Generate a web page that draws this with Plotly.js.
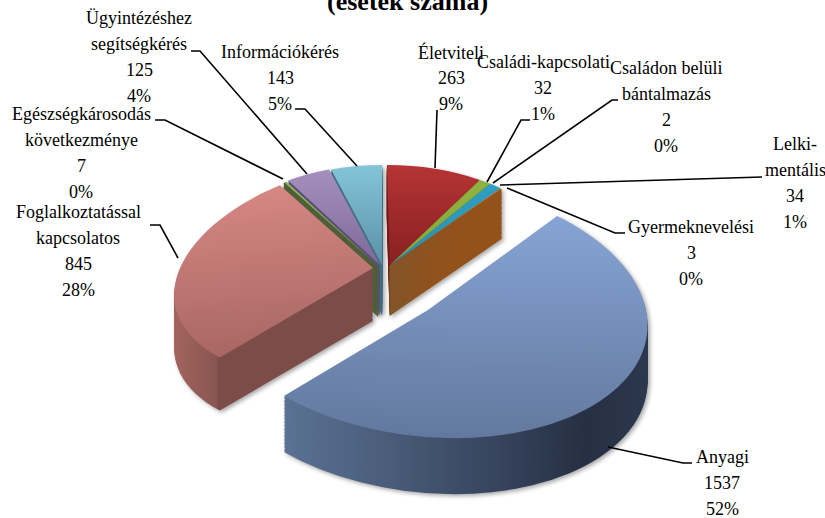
<!DOCTYPE html>
<html><head><meta charset="utf-8">
<script src="https://cdn.plot.ly/plotly-3.0.1.min.js"></script>
<style>html,body{margin:0;padding:0;background:#fff}#c{width:825px;height:518px}</style></head>
<body><div id="c"></div>
<script>
const categories = ['Életviteli','Családi-kapcsolati','Családon belüli bántalmazás','Lelki-mentális','Gyermeknevelési','Anyagi','Foglalkoztatással kapcsolatos','Egészségkárosodás következménye','Ügyintézéshez segítségkérés','Információkérés'];
const values = [263,32,2,34,3,1537,845,7,125,143];
const percents = ['9%','1%','0%','1%','0%','52%','28%','0%','4%','5%'];
const nameLines = [['Életviteli'],['Családi-kapcsolati'],['Családon belüli','bántalmazás'],['Lelki-','mentális'],['Gyermeknevelési'],['Anyagi'],['Foglalkoztatással','kapcsolatos'],['Egészségkárosodás','következménye'],['Ügyintézéshez','segítségkérés'],['Információkérés']];
const labelX = [451,543,666,795,691,722,78,81,139,280];
const labelY = [52,62,68,144,227,457,212,114,18,52];
const lineGap = 26;
const leaders = [
 [[437,110],[435,168]],
 [[530,120],[521,120],[487,182]],
 [[618,100],[612,100],[493,183]],
 [[762,177],[500,185]],
 [[625,233],[615,233],[507,188]],
 [[608,447],[683,463],[692,463]],
 [[150,225],[160,225],[178,258]],
 [[155,120],[165,120],[283,179]],
 [[191,51],[200,51],[307,174]],
 [[295,109],[305,109],[357,166]]
];
const topFrom = ['#b63434','#8fb340','#8fb340','#2f9fc2','#e08a2c','#86a4d4','#d68784','#93b560','#a58fbd','#84c5da'];
const topTo   = ['#872022','#86a53c','#86a53c','#2a8fb0','#c87824','#63789e','#a86764','#7d9a50','#7d6a98','#5b90a6'];
const sideCol = ['#7a1e20','#5a7030','#5a7030','#1f6f8a','#95521a','#2c3a52','#7e4e4a','#4f5f38','#5c4c78','#456f85'];
// per-slice placement: apex, 2x2 projection of the unit circle, extrusion depth
const place = [
 {p:[390,265],m:[[176,3],[0,100]],d:50},{p:[390,265],m:[[176,3],[0,100]],d:50},{p:[390,265],m:[[176,3],[0,100]],d:50},
 {p:[390,265],m:[[176,3],[0,100]],d:50},{p:[390,265],m:[[176,3],[0,100]],d:50},
 {p:[428,310],m:[[219,16],[6,128]],d:56},
 {p:[373,268],m:[[198,-18],[-17,110]],d:53},
 {p:[378,266],m:[[172,0],[0,100]],d:50},{p:[380,265],m:[[172,0],[0,100]],d:50},{p:[382,265],m:[[172,0],[0,100]],d:50}
];
const LAYERS = 40;

const traces = [];
for (let i = 0; i <= LAYERS; i++) {
  const isTop = i === LAYERS;
  traces.push({
    type:'pie', labels:categories, values:values, sort:false, direction:'clockwise', rotation:0,
    textinfo:'none', hoverinfo:'skip', showlegend:false,
    domain:{x:[0,1],y:[0,1]},
    marker:{colors: isTop ? topFrom : sideCol,
            line:{color: isTop ? topFrom : sideCol, width: isTop ? 0 : categories.map(function(c,k){return values[k]<10?2:0.6;})}}
  });
}
const annotations = [], shapes = [];
categories.forEach(function(c,k){
  const lines = nameLines[k].concat([String(values[k]), percents[k]]);
  lines.forEach(function(t,j){
    annotations.push({xref:'paper',yref:'paper',x:labelX[k]/825,y:1-(labelY[k]+j*lineGap)/518,xanchor:'center',yanchor:'middle',
      text:t,showarrow:false,font:{family:'Liberation Serif',size:18,color:'#000'}});
  });
  shapes.push({type:'path',xref:'paper',yref:'paper',line:{color:'#000',width:1.6},
    path:leaders[k].map(function(q,j){return (j?'L':'M')+(q[0]/825)+','+(1-q[1]/518);}).join(' ')});
});
const layout = {width:825,height:518,margin:{l:0,r:0,t:0,b:0},paper_bgcolor:'#fff',showlegend:false,
  title:{text:'<b>(esetek száma)</b>',x:0.494,xanchor:'center',y:0.998,yanchor:'middle',font:{family:'Liberation Serif',size:26,color:'#000'}},
  annotations:annotations,shapes:shapes};

const gd = document.getElementById('c');
Plotly.newPlot(gd,traces,layout,{displayModeBar:false,staticPlot:true}).then(function(){
  const svg = gd.querySelector('.main-svg');
  const NS = 'http://www.w3.org/2000/svg';
  const defs = svg.querySelector('defs');
  function grad(id,x2,y2,stops){
    const g=document.createElementNS(NS,'linearGradient');
    g.setAttribute('id',id);g.setAttribute('x1',0);g.setAttribute('y1',0);g.setAttribute('x2',x2);g.setAttribute('y2',y2);
    stops.forEach(function(s){const e=document.createElementNS(NS,'stop');e.setAttribute('offset',s[0]);e.setAttribute('stop-color',s[1]);g.appendChild(e);});
    defs.appendChild(g);
  }
  topFrom.forEach(function(c,k){grad('top'+k,0,1,[[0,c],[1,topTo[k]]]);});
  grad('sideAny',1,0,[[0,'#5b7294'],[0.8,'#263044'],[1,'#2c384e']]);
  grad('sideFog',1,0,[[0,'#a5655f'],[0.27,'#8a5651'],[0.28,'#7c4c48'],[1,'#7c4c48']]);
  const cd = gd.calcdata[0][0];
  const R = cd.r, cx = cd.cx, cy = cd.cy;
  const layers = gd.querySelectorAll('.pielayer g.trace');
  layers.forEach(function(tr,i){
    tr.querySelectorAll('g.slice').forEach(function(s,k){
      const P = place[k], m = P.m;
      const off = P.d*(LAYERS-i)/LAYERS;
      const a=m[0][0]/R,c=m[0][1]/R,b=m[1][0]/R,d=m[1][1]/R;
      const e=P.p[0]-(a*cx+c*cy), f=P.p[1]+off-(b*cx+d*cy);
      s.setAttribute('transform','matrix('+[a,b,c,d,e,f].join(' ')+')');
      const path=s.querySelector('path.surface');
      if(i===LAYERS){path.style.fill='url(#top'+k+')';path.style.strokeWidth='0';}
      else if(k===5){path.style.fill='url(#sideAny)';path.style.strokeWidth='0';}
      else if(k===6){path.style.fill='url(#sideFog)';path.style.strokeWidth='0';}
    });
  });
  gd.querySelector('.pielayer').style.filter='drop-shadow(2px 2px 2px rgba(0,0,0,.35))';
});
</script></body></html>
